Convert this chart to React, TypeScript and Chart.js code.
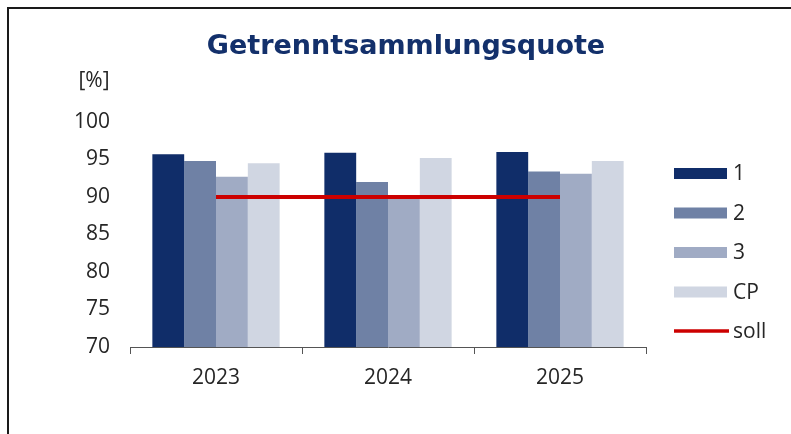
import React, { useEffect, useRef } from "react";
import { Chart, registerables } from "chart.js";

Chart.register(...registerables);

const TITLE = "Getrenntsammlungsquote";
const UNIT = "[%]";
const YEARS = ["2023", "2024", "2025"];
const SERIES_LABELS = ["1", "2", "3", "CP"];
const SERIES_1 = [95.7, 95.9, 96.0];
const SERIES_2 = [94.8, 92.0, 93.4];
const SERIES_3 = [92.7, 90.25, 93.1];
const SERIES_CP = [94.5, 95.2, 94.8];
const SOLL_LABEL = "soll";
const SOLL = [90, 90, 90];
const Y_MIN = 70;
const Y_MAX = 100;
const Y_STEP = 5;

const COLORS = ["#102d69", "#6f81a5", "#a0abc4", "#d0d6e2"];
const RED = "#cc0000";
const TEXT = "#262626";
const FONT = "'Open Sans', 'DejaVu Sans', sans-serif";

const overlayPlugin = {
  id: "overlayText",
  afterDraw(chart: any) {
    const ctx = chart.ctx;
    ctx.save();
    // title
    ctx.fillStyle = "#13306b";
    ctx.font = `bold 27px 'DejaVu Sans', sans-serif`;
    ctx.textAlign = "center";
    ctx.textBaseline = "middle";
    ctx.fillText(TITLE, 406, 47);
    // unit
    ctx.fillStyle = TEXT;
    ctx.font = `21px ${FONT}`;
    ctx.fillText(UNIT, 94, 81);
    // legend
    const datasets = chart.data.datasets;
    const rowY = [173.5, 213, 252.5, 292, 331];
    ctx.textAlign = "left";
    datasets.forEach((ds: any, i: number) => {
      const y = rowY[i];
      if (ds.type === "line") {
        ctx.strokeStyle = ds.borderColor;
        ctx.lineWidth = 3.5;
        ctx.beginPath();
        ctx.moveTo(674, y);
        ctx.lineTo(729, y);
        ctx.stroke();
      } else {
        ctx.fillStyle = ds.backgroundColor;
        ctx.fillRect(674, y - 5.5, 53, 11);
      }
      ctx.fillStyle = TEXT;
      ctx.fillText(ds.label, 733, y + 1);
    });
    ctx.restore();
  },
};

export default function App() {
  const ref = useRef<HTMLCanvasElement | null>(null);

  useEffect(() => {
    if (!ref.current) return;
    const barSets = [SERIES_1, SERIES_2, SERIES_3, SERIES_CP].map((d, i) => ({
      type: "bar" as const,
      label: SERIES_LABELS[i],
      data: d,
      backgroundColor: COLORS[i],
      borderWidth: 0,
      order: 1,
      categoryPercentage: 0.74,
      barPercentage: 1.0,
    }));
    const chart = new Chart(ref.current, {
      type: "bar",
      data: {
        labels: YEARS,
        datasets: [
          ...barSets,
          {
            type: "line" as const,
            label: SOLL_LABEL,
            data: SOLL,
            borderColor: RED,
            backgroundColor: RED,
            borderWidth: 4,
            pointRadius: 0,
            order: 0,
          } as any,
        ],
      },
      options: {
        animation: false,
        responsive: false,
        devicePixelRatio: 1,
        layout: { padding: { left: 0, right: 145, top: 122, bottom: 0 } },
        plugins: {
          legend: { display: false },
          title: { display: false },
          tooltip: { enabled: false },
        },
        scales: {
          x: {
            offset: true,
            grid: {
              display: true,
              offset: true,
              drawOnChartArea: false,
              drawTicks: true,
              tickLength: 7,
              color: "#555",
            },
            border: { display: true, color: "#555", width: 1 },
            ticks: { color: TEXT, font: { family: FONT, size: 21 }, padding: 11 },
            afterFit: (s: any) => {
              s.height = 87;
            },
          },
          y: {
            min: Y_MIN,
            max: Y_MAX,
            grid: { display: false, drawTicks: false },
            border: { display: false },
            ticks: {
              stepSize: Y_STEP,
              color: TEXT,
              font: { family: FONT, size: 21 },
              padding: 20,
            },
            afterFit: (s: any) => {
              s.width = 130;
            },
          },
        },
      },
      plugins: [overlayPlugin],
    });
    return () => chart.destroy();
  }, []);

  return (
    <div style={{ position: "fixed", left: 0, top: 0, width: 791, height: 434, background: "#fff" }}>
      <canvas ref={ref} width={791} height={434} style={{ position: "absolute", left: 0, top: 0 }} />
      <div
        style={{
          position: "absolute",
          left: 7,
          top: 7,
          width: 784,
          height: 427,
          borderLeft: "2px solid #1a1a1a",
          borderTop: "2px solid #1a1a1a",
          boxSizing: "border-box",
          pointerEvents: "none",
        }}
      />
    </div>
  );
}
